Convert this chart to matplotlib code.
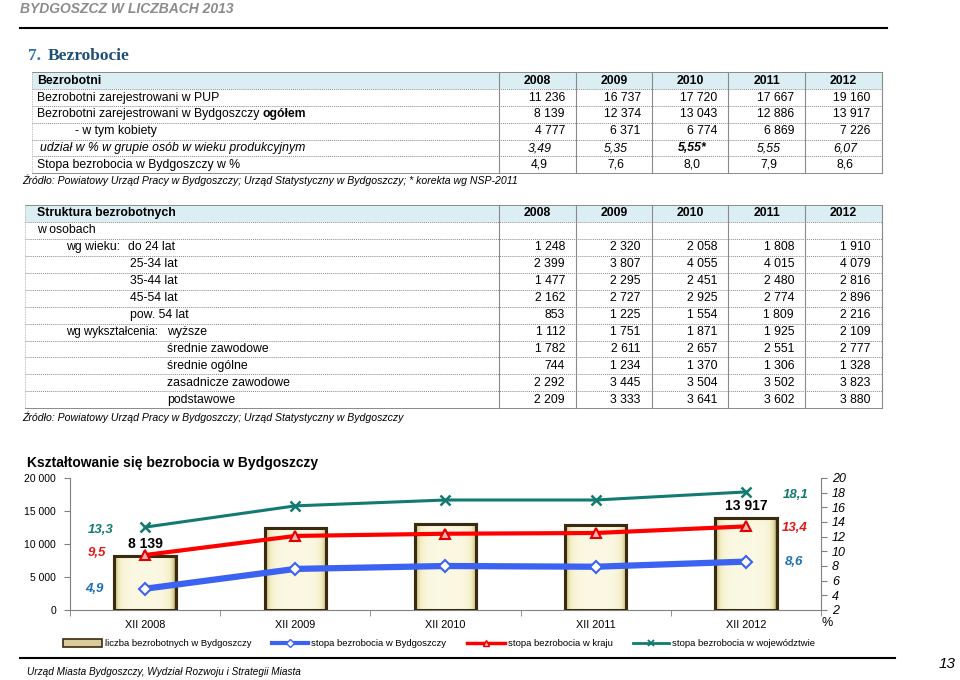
import matplotlib.pyplot as plt
import numpy as np
from matplotlib.lines import Line2D
from matplotlib.patches import Rectangle
from matplotlib.colors import LinearSegmentedColormap

plt.rcParams['font.family'] = ['Liberation Sans', 'DejaVu Sans']

# --- data ---
years = ['2008', '2009', '2010', '2011', '2012']

t1_labels = ['Bezrobotni zarejestrowani w PUP',
             'Bezrobotni zarejestrowani w Bydgoszczy',
             '- w tym kobiety',
             'udział w % w grupie osób w wieku produkcyjnym',
             'Stopa bezrobocia w Bydgoszczy w %']
pup = ['11 236', '16 737', '17 720', '17 667', '19 160']
ogolem = ['8 139', '12 374', '13 043', '12 886', '13 917']
kobiety = ['4 777', '6 371', '6 774', '6 869', '7 226']
udzial = ['3,49', '5,35', '5,55*', '5,55', '6,07']
stopa_tab = ['4,9', '7,6', '8,0', '7,9', '8,6']

age_labels = ['do 24 lat', '25-34 lat', '35-44 lat', '45-54 lat', 'pow. 54 lat']
edu_labels = ['wyższe', 'średnie zawodowe', 'średnie ogólne', 'zasadnicze zawodowe', 'podstawowe']
age_24 = ['1 248', '2 320', '2 058', '1 808', '1 910']
age_25_34 = ['2 399', '3 807', '4 055', '4 015', '4 079']
age_35_44 = ['1 477', '2 295', '2 451', '2 480', '2 816']
age_45_54 = ['2 162', '2 727', '2 925', '2 774', '2 896']
age_54 = ['853', '1 225', '1 554', '1 809', '2 216']
edu_wyzsze = ['1 112', '1 751', '1 871', '1 925', '2 109']
edu_sr_zaw = ['1 782', '2 611', '2 657', '2 551', '2 777']
edu_sr_ogol = ['744', '1 234', '1 370', '1 306', '1 328']
edu_zasad = ['2 292', '3 445', '3 504', '3 502', '3 823']
edu_podst = ['2 209', '3 333', '3 641', '3 602', '3 880']

periods = ['XII 2008', 'XII 2009', 'XII 2010', 'XII 2011', 'XII 2012']
liczba = [8139, 12374, 13043, 12886, 13917]
stopa_bdg = [4.9, 7.6, 8.0, 7.9, 8.6]
stopa_kraj = [9.5, 12.1, 12.4, 12.5, 13.4]
stopa_woj = [13.3, 16.2, 17.0, 17.0, 18.1]

fig = plt.figure(figsize=(9.6, 6.8), dpi=100)
bg = fig.add_axes([0, 0, 1, 1])
bg.set_xlim(0, 960)
bg.set_ylim(680, 0)
bg.axis('off')

# header / footer
bg.text(20, 9, 'BYDGOSZCZ W LICZBACH 2013', fontsize=10, fontweight='bold', style='italic',
        color='#8c8c8c', va='center')
bg.plot([20, 887], [28, 28], color='black', lw=1.5)
bg.text(28, 56, '7.', fontsize=12.5, fontweight='bold', color='#2e74b5', va='center',
        family=['Liberation Serif', 'DejaVu Serif'])
bg.text(48, 56, 'Bezrobocie', fontsize=12.5, fontweight='bold', color='#1f4e79', va='center',
        family=['Liberation Serif', 'DejaVu Serif'])
bg.plot([20, 895], [658, 658], color='black', lw=1.5)
bg.text(27, 672, 'Urząd Miasta Bydgoszczy, Wydział Rozwoju i Strategii Miasta', fontsize=7.2, style='italic',
        va='center')
bg.text(956, 664, '13', fontsize=11, style='italic', ha='right', va='center')

col_x = [499.3, 576, 651.7, 728.3, 805, 881.7]
FS = 8.8


def table(x0, top, rh, nrows):
    bottom = top + rh * nrows
    bg.add_patch(Rectangle((x0, top), col_x[-1] - x0, rh, facecolor='#dbeef4', edgecolor='none', zorder=0))
    for i in range(nrows + 1):
        y = top + rh * i
        ls = '-' if i in (0, nrows) else (0, (1, 1))
        bg.plot([x0, col_x[-1]], [y, y], color='#8a8a8a', lw=0.7, ls=ls)
    for x in col_x:
        bg.plot([x, x], [top, bottom], color='#8a8a8a', lw=0.8)
    bg.plot([x0, x0], [top, bottom], color='#b0b0b0', lw=0.6, ls=(0, (1, 1)))
    for j, yr in enumerate(years):
        bg.text((col_x[j] + col_x[j + 1]) / 2, top + rh / 2, yr, ha='center', va='center',
                fontsize=FS, fontweight='bold')


def right_row(y, vals, **kw):
    for j, v in enumerate(vals):
        bg.text(col_x[j + 1] - 11, y, v, ha='right', va='center', fontsize=FS, **kw)


def center_row(y, vals, **kw):
    for j, v in enumerate(vals):
        bg.text((col_x[j] + col_x[j + 1]) / 2 + 2, y, v, ha='center', va='center', fontsize=FS, **kw)


# table 1
top1, rh1 = 72.3, 16.83
table(32, top1, rh1, 6)
yc = [top1 + rh1 * (i + 0.5) for i in range(6)]
bg.text(37, yc[0], 'Bezrobotni', fontsize=FS, fontweight='bold', va='center')
bg.text(37, yc[1], t1_labels[0], fontsize=FS, va='center')
t = bg.text(37, yc[2], t1_labels[1] + ' ', fontsize=FS, va='center')
bg.annotate('ogółem', xycoords=t, xy=(1, 0.5), va='center', fontsize=FS, fontweight='bold')
bg.text(75, yc[3], t1_labels[2], fontsize=FS, va='center')
bg.text(40, yc[4], t1_labels[3], fontsize=FS, va='center', style='italic')
bg.text(37, yc[5], t1_labels[4], fontsize=FS, va='center')
right_row(yc[1], pup)
right_row(yc[2], ogolem)
right_row(yc[3], kobiety)
for j, v in enumerate(udzial):
    bg.text((col_x[j] + col_x[j + 1]) / 2 + 2, yc[4], v, ha='center', va='center', fontsize=FS,
            style='italic', fontweight='bold' if '*' in v else 'normal')
center_row(yc[5], stopa_tab)
bg.text(22, 180, 'Źródło: Powiatowy Urząd Pracy w Bydgoszczy; Urząd Statystyczny w Bydgoszczy; * korekta wg NSP-2011',
        fontsize=7.6, style='italic', va='center')

# table 2
top2, rh2 = 205, 16.94
table(25, top2, rh2, 12)
yc2 = [top2 + rh2 * (i + 0.5) for i in range(12)]
bg.text(37, yc2[0], 'Struktura bezrobotnych', fontsize=FS, fontweight='bold', va='center')
bg.text(37, yc2[1], 'w osobach', fontsize=FS, va='center')
bg.text(66, yc2[2], 'wg wieku:', fontsize=FS, va='center')
for i, lab in enumerate(age_labels):
    bg.text(128 if i == 0 else 130, yc2[2 + i], lab, fontsize=FS, va='center')
bg.text(66, yc2[7], 'wg wykształcenia:', fontsize=8.3, va='center')
for i, lab in enumerate(edu_labels):
    bg.text(167, yc2[7 + i], lab, fontsize=FS, va='center')
for i, row in enumerate([age_24, age_25_34, age_35_44, age_45_54, age_54,
                         edu_wyzsze, edu_sr_zaw, edu_sr_ogol, edu_zasad, edu_podst]):
    right_row(yc2[2 + i], row)
bg.text(22, 417, 'Źródło: Powiatowy Urząd Pracy w Bydgoszczy; Urząd Statystyczny w Bydgoszczy',
        fontsize=7.6, style='italic', va='center')

# chart
bg.text(27, 463, 'Kształtowanie się bezrobocia w Bydgoszczy', fontsize=10, fontweight='bold', va='center')

ax = fig.add_axes([70 / 960, 70 / 680, 751 / 960, 132 / 680])
x = np.arange(len(periods))
bars = ax.bar(x, liczba, width=0.41, facecolor='#efe8b4', edgecolor='#3a2a10', lw=2.2, zorder=2)
bar_cmap = LinearSegmentedColormap.from_list('bar', ['#8c7a40', '#d8cf98', '#f3edc2', '#fbf8e2'])
g = np.linspace(-1, 1, 64)
grad = np.tile(1 - np.abs(g) ** 6, (8, 1))
for b in bars:
    im = ax.imshow(grad, cmap=bar_cmap, vmin=0, vmax=1, aspect='auto', zorder=2.5,
                   extent=(b.get_x(), b.get_x() + b.get_width(), 0, b.get_height()))
    im.set_clip_path(b)
    ax.add_patch(Rectangle((b.get_x(), 0), b.get_width(), b.get_height(), facecolor='none',
                           edgecolor='#3a2a10', lw=2.2, zorder=2.6))
ax.set_xlim(-0.5, len(periods) - 0.5)
ax.set_ylim(0, 20000)
ax.set_yticks([0, 5000, 10000, 15000, 20000])
ax.set_yticklabels(['0', '5 000', '10 000', '15 000', '20 000'], fontsize=7.5)
ax.set_xticks(x)
ax.set_xticklabels(periods, fontsize=7.8)
ax.tick_params(axis='x', length=0, pad=7)
ax.set_xticks(np.arange(-0.5, len(periods)), minor=True)
ax.tick_params(axis='x', which='minor', length=4, color='#808080')
ax.tick_params(axis='y', length=4, color='#808080', pad=6)
for s in ['top', 'right']:
    ax.spines[s].set_visible(False)
ax.spines['left'].set_color('#808080')
ax.spines['bottom'].set_color('#808080')
ax.patch.set_alpha(0)

ax2 = ax.twinx()
ax2.set_ylim(2, 20)
ax2.set_yticks(np.arange(2, 21, 2))
ax2.set_yticklabels([str(v) for v in range(2, 21, 2)], fontsize=9, style='italic')
ax2.tick_params(axis='y', length=4, color='#808080', pad=4)
for s in ['top', 'left', 'bottom']:
    ax2.spines[s].set_visible(False)
ax2.spines['right'].set_color('#808080')

ax2.plot(x, stopa_woj, color='#127a70', lw=2.2, marker='x', ms=7, mew=1.8, zorder=5)
ax2.plot(x, stopa_kraj, color='#ff0000', lw=3, marker='^', ms=7, mfc='#ffb0b0', mec='#e00000', mew=1.5, zorder=5)
ax2.plot(x, stopa_bdg, color='#3b62f0', lw=4.5, marker='D', ms=6, mfc='white', mec='#3b62f0', mew=1.5, zorder=5)


def fmt(v):
    return f'{v:.1f}'.replace('.', ',')


# data labels
lab_kw = dict(fontsize=9.5, fontweight='bold', style='italic', va='center', ha='left',
              textcoords='offset pixels')
ax2.annotate(fmt(stopa_woj[0]), (x[0], stopa_woj[0]), xytext=(-57, -3), color='#127a70', **lab_kw)
ax2.annotate(fmt(stopa_kraj[0]), (x[0], stopa_kraj[0]), xytext=(-57, 2), color='#e01818', **lab_kw)
ax2.annotate(fmt(stopa_bdg[0]), (x[0], stopa_bdg[0]), xytext=(-60, 0), color='#1f6fb5', **lab_kw)
ax2.annotate(fmt(stopa_woj[-1]), (x[-1], stopa_woj[-1]), xytext=(37, -3), color='#127a70', **lab_kw)
ax2.annotate(fmt(stopa_kraj[-1]), (x[-1], stopa_kraj[-1]), xytext=(36, -2), color='#e01818', **lab_kw)
ax2.annotate(fmt(stopa_bdg[-1]), (x[-1], stopa_bdg[-1]), xytext=(39, 0), color='#1f6fb5', **lab_kw)
for i in (0, len(x) - 1):
    ax.annotate(f'{liczba[i]:,}'.replace(',', ' '), (x[i], liczba[i]), xytext=(0, 5),
                textcoords='offset pixels', ha='center', va='bottom', fontsize=10, fontweight='bold')
bg.text(827, 623, '%', fontsize=9, ha='center', va='center')

# legend
LY = 643
LFS = 6.8
bg.add_patch(Rectangle((63, LY - 4), 39, 8, facecolor='#d8cc98', edgecolor='#3a2a10', lw=1.2))
bg.text(105, LY, 'liczba bezrobotnych w Bydgoszczy', fontsize=LFS, va='center')
bg.add_line(Line2D([272, 308], [LY, LY], color='#3b62f0', lw=3))
bg.add_line(Line2D([290], [LY], marker='D', ms=4, mfc='white', mec='#3b62f0', mew=1))
bg.text(311, LY, 'stopa bezrobocia w Bydgoszczy', fontsize=LFS, va='center')
bg.add_line(Line2D([467, 505], [LY, LY], color='#ff0000', lw=2.5))
bg.add_line(Line2D([486], [LY], marker='^', ms=5, mfc='#ffb0b0', mec='#e00000', mew=1))
bg.text(508, LY, 'stopa bezrobocia w kraju', fontsize=LFS, va='center')
bg.add_line(Line2D([633, 669], [LY, LY], color='#127a70', lw=2))
bg.add_line(Line2D([651], [LY], marker='x', ms=5, color='#127a70', mew=1.3))
bg.text(672, LY, 'stopa bezrobocia w województwie', fontsize=LFS, va='center')

fig.savefig('out.png', dpi=100)
